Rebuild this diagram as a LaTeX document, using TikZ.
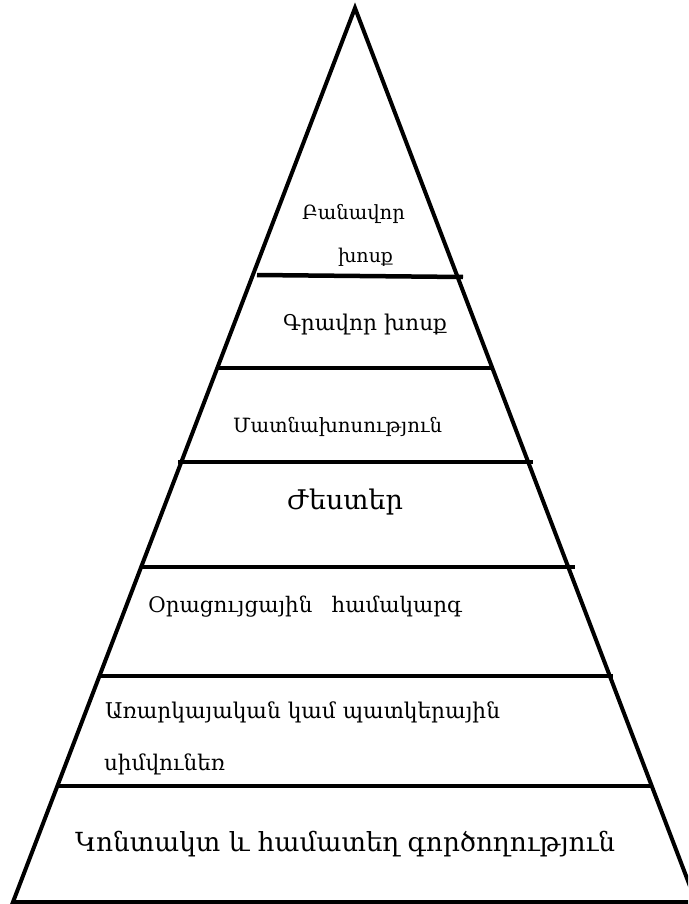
\documentclass[tikz,border=0pt]{standalone}
\usepackage{fontspec}
\setmainfont{DejaVu Serif}
\newcommand{\fitw}[2]{\resizebox{#1}{!}{#2}}
\begin{document}
\begin{tikzpicture}[x=1pt,y=-1pt,
  edge/.style={line width=4pt, line join=miter},
  divider/.style={line width=4.5pt},
  lbl/.style={anchor=base west, inner sep=0pt, outer sep=0pt, text=black}]
\useasboundingbox (0,0) rectangle (688,904);
\fill[white] (0,0) rectangle (688,904);
\begin{scope}
\clip (0,0) rectangle (688,904);
\coordinate (apex) at (355,8);
\coordinate (bl) at (13,902);
\coordinate (br) at (696,902);
\draw[edge] (apex) -- (bl) -- (br) -- cycle;
\coordinate (d1l) at (257,275); \coordinate (d1r) at (463,277);
\coordinate (d2l) at (218,368); \coordinate (d2r) at (493,368);
\coordinate (d3l) at (178,462); \coordinate (d3r) at (533,462);
\coordinate (d4l) at (140,567); \coordinate (d4r) at (575,567);
\coordinate (d5l) at (100,676); \coordinate (d5r) at (613,676);
\coordinate (d6l) at (58,786);  \coordinate (d6r) at (653,786);
\draw[divider] (d1l) -- (d1r);
\draw[divider] (d2l) -- (d2r);
\draw[divider] (d3l) -- (d3r);
\draw[divider] (d4l) -- (d4r);
\draw[divider] (d5l) -- (d5r);
\draw[divider] (d6l) -- (d6r);
\end{scope}
\node[lbl] (t1a) at (302,219) {\fitw{103pt}{Բանավոր}};
\node[lbl] (t1b) at (338,262) {\fitw{55pt}{խոսք}};
\node[lbl] (t2) at (283,330) {\fitw{164pt}{Գրավոր խոսք}};
\node[lbl] (t3) at (233,432) {\fitw{209pt}{Մատնախոսություն}};
\node[lbl] (t4) at (287,509) {\fitw{116pt}{Ժեստեր}};
\node[lbl] (t5) at (148,612) {\fitw{314pt}{Օրացույցային\hspace{0.9em}համակարգ}};
\node[lbl] (t6a) at (105,718) {\fitw{395pt}{Առարկայական կամ պատկերային}};
\node[lbl] (t6b) at (104,770) {\fitw{121pt}{սիմվունեռ}};
\node[lbl] (t7) at (75,851) {\fitw{540pt}{Կոնտակտ և համատեղ գործողություն}};
\end{tikzpicture}
\end{document}
